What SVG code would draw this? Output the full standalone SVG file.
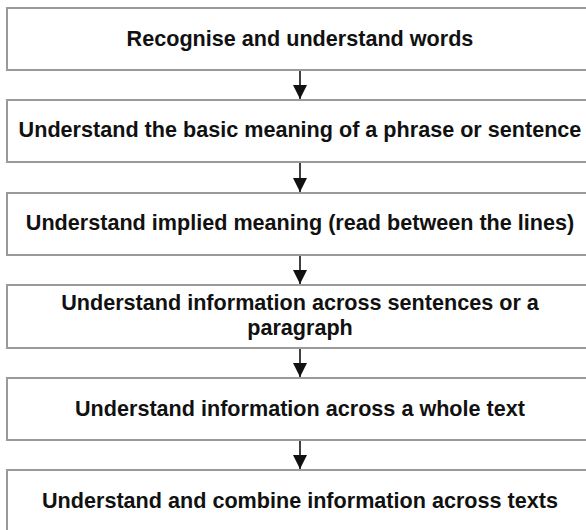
<svg xmlns="http://www.w3.org/2000/svg" width="586" height="530" viewBox="0 0 586 530">
<style>
.box{fill:#ffffff;stroke:#9a9a9a;stroke-width:2}
.lbl{font-family:"Liberation Sans",Arial,sans-serif;font-weight:bold;font-size:21.6px;fill:#111111;text-anchor:middle}
.conn{stroke:#111111;stroke-width:1.6;fill:none}
</style>
<defs>
<marker id="ah" viewBox="0 0 14 14" refX="14" refY="7" markerWidth="14" markerHeight="14" markerUnits="userSpaceOnUse" orient="auto">
<path d="M0,0 L14,7 L0,14 Z" fill="#111111"/>
</marker>
</defs>
<rect width="586" height="530" fill="#ffffff"/>
<g id="n1"><rect class="box" x="7" y="8" width="586" height="62"/><text class="lbl" x="300" y="46">Recognise and understand words</text></g>
<g id="n2"><rect class="box" x="7" y="100" width="586" height="62"/><text class="lbl" x="300" y="137">Understand the basic meaning of a phrase or sentence</text></g>
<g id="n3"><rect class="box" x="7" y="193" width="586" height="62"/><text class="lbl" x="300" y="230">Understand implied meaning (read between the lines)</text></g>
<g id="n4"><rect class="box" x="7" y="285" width="586" height="63"/><text class="lbl" x="300" y="310">Understand information across sentences or a</text><text class="lbl" x="300" y="335">paragraph</text></g>
<g id="n5"><rect class="box" x="7" y="378" width="586" height="62"/><text class="lbl" x="300" y="416">Understand information across a whole text</text></g>
<g id="n6"><rect class="box" x="7" y="470" width="586" height="70"/><text class="lbl" x="300" y="508">Understand and combine information across texts</text></g>
<g id="connectors">
<line class="conn" x1="300" y1="71" x2="300" y2="99" marker-end="url(#ah)"/>
<line class="conn" x1="300" y1="163" x2="300" y2="192" marker-end="url(#ah)"/>
<line class="conn" x1="300" y1="256" x2="300" y2="284" marker-end="url(#ah)"/>
<line class="conn" x1="300" y1="349" x2="300" y2="377" marker-end="url(#ah)"/>
<line class="conn" x1="300" y1="441" x2="300" y2="469" marker-end="url(#ah)"/>
</g>
</svg>
